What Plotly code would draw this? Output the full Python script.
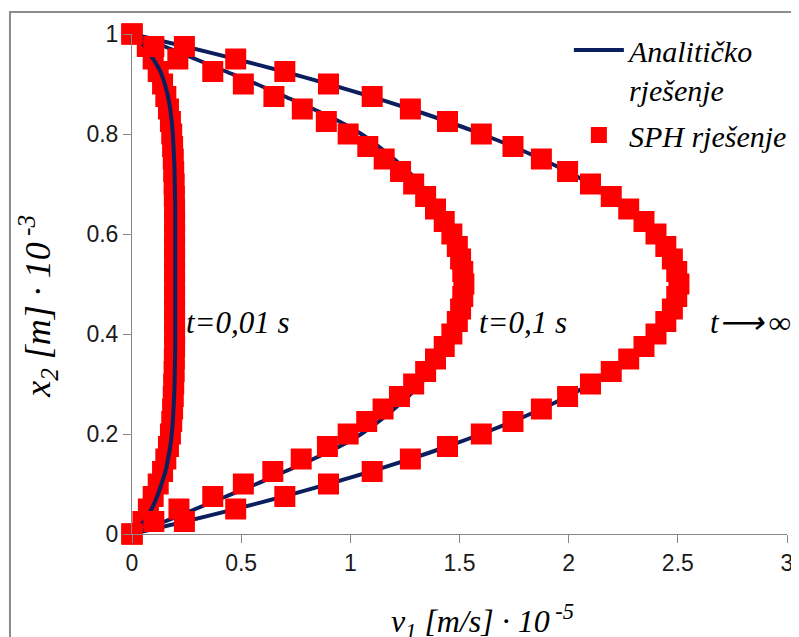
import plotly.graph_objects as go

# ---------------- data ----------------
y_pts = [0, 0.025, 0.05, 0.075, 0.1, 0.125, 0.15, 0.175, 0.2, 0.225, 0.25,
         0.275, 0.3, 0.325, 0.35, 0.375, 0.4, 0.425, 0.45, 0.475, 0.5,
         0.525, 0.55, 0.575, 0.6, 0.625, 0.65, 0.675, 0.7, 0.725, 0.75,
         0.775, 0.8, 0.825, 0.85, 0.875, 0.9, 0.925, 0.95, 0.975, 1]

# analytical solution (lines)
an_t001 = [0, 0.055, 0.09, 0.115, 0.135, 0.153, 0.165, 0.175, 0.182, 0.187, 0.19,
           0.193, 0.195, 0.196, 0.197, 0.198, 0.198, 0.198, 0.198, 0.198, 0.198,
           0.198, 0.198, 0.198, 0.198, 0.198, 0.198, 0.197, 0.196, 0.195, 0.193,
           0.19, 0.187, 0.182, 0.175, 0.165, 0.15, 0.13, 0.097, 0.06, 0]
an_t01 = [0, 0.15, 0.29, 0.43, 0.57, 0.70, 0.83, 0.95, 1.05, 1.13, 1.20,
          1.265, 1.32, 1.37, 1.41, 1.445, 1.475, 1.50, 1.515, 1.525, 1.53,
          1.525, 1.515, 1.50, 1.475, 1.445, 1.41, 1.37, 1.32, 1.265, 1.20,
          1.13, 1.05, 0.95, 0.83, 0.70, 0.57, 0.43, 0.29, 0.15, 0]
an_tinf = [0, 0.244, 0.475, 0.694, 0.90, 1.094, 1.275, 1.444, 1.60, 1.744, 1.875,
           1.994, 2.10, 2.194, 2.275, 2.344, 2.40, 2.444, 2.475, 2.494, 2.50,
           2.494, 2.475, 2.444, 2.40, 2.344, 2.275, 2.194, 2.10, 1.994, 1.875,
           1.744, 1.60, 1.444, 1.275, 1.094, 0.90, 0.694, 0.475, 0.244, 0]

# SPH solution (markers)
sph_t001 = [0, 0.05, 0.075, 0.097, 0.12, 0.14, 0.155, 0.167, 0.176, 0.182, 0.186,
            0.189, 0.191, 0.193, 0.194, 0.195, 0.195, 0.195, 0.195, 0.195, 0.195,
            0.195, 0.195, 0.195, 0.195, 0.195, 0.195, 0.194, 0.193, 0.191, 0.189,
            0.186, 0.182, 0.176, 0.167, 0.155, 0.14, 0.12, 0.097, 0.07, 0]
sph_t01 = [0, 0.10, 0.215, 0.37, 0.51, 0.645, 0.775, 0.895, 0.99, 1.075, 1.15,
           1.225, 1.29, 1.345, 1.39, 1.43, 1.465, 1.49, 1.505, 1.515, 1.52,
           1.515, 1.505, 1.49, 1.465, 1.43, 1.39, 1.345, 1.29, 1.23, 1.155,
           1.08, 0.99, 0.89, 0.78, 0.65, 0.51, 0.37, 0.21, 0.10, 0]
sph_tinf = [0, 0.24, 0.475, 0.70, 0.90, 1.10, 1.275, 1.445, 1.60, 1.745, 1.875,
            1.995, 2.10, 2.195, 2.275, 2.345, 2.40, 2.445, 2.475, 2.495, 2.505,
            2.495, 2.475, 2.445, 2.40, 2.345, 2.275, 2.195, 2.10, 1.995, 1.875,
            1.745, 1.60, 1.445, 1.275, 1.10, 0.90, 0.70, 0.475, 0.24, 0]

x_ticks = [0, 0.5, 1, 1.5, 2, 2.5, 3]
y_ticks = [0, 0.2, 0.4, 0.6, 0.8, 1]

curve_labels = ["t=0,01 s", "t=0,1 s", "t⟶\u2009∞"]
label_x = [0.24, 1.58, 2.64]
label_y = [0.424, 0.424, 0.424]

LINE_C = "#0B1F5E"
MARK_C = "#FF0000"
SERIF = "Liberation Serif"

fig = go.Figure()

def sph(xv, show):
    fig.add_trace(go.Scatter(
        x=xv, y=y_pts, mode="markers", name="SPH rješenje",
        legendgroup="sph", showlegend=show, legendrank=2, cliponaxis=False,
        marker=dict(symbol="square", size=21, color=MARK_C, line=dict(width=0))))

def ana(xv, show):
    fig.add_trace(go.Scatter(
        x=xv, y=y_pts, mode="lines", name="Analitičko<br>rješenje",
        legendgroup="an", showlegend=show, legendrank=1, cliponaxis=False,
        line=dict(color=LINE_C, width=4, shape="spline", smoothing=0.8)))

sph(sph_t001, False)
ana(an_t001, True)
ana(an_t01, False)
ana(an_tinf, False)
sph(sph_t01, True)
sph(sph_tinf, False)

for txt, xx, yy in zip(curve_labels, label_x, label_y):
    fig.add_annotation(x=xx, y=yy, text=txt, showarrow=False, xanchor="left",
                       yanchor="middle",
                       font=dict(family=SERIF, size=31, style="italic", color="#000"))

# axis titles
fig.add_annotation(xref="paper", yref="paper", x=0.535, y=-0.126,
                   text="v<sub>1</sub> [m/s] · 10<sup> -5</sup>", showarrow=False,
                   xanchor="center", yanchor="top",
                   font=dict(family=SERIF, size=32, style="italic", color="#000"))
fig.add_annotation(xref="paper", yref="paper", x=-0.143, y=0.455,
                   text="x<sub>2</sub> [m] · 10<sup> -3</sup>", showarrow=False,
                   xanchor="center", yanchor="middle", textangle=-90,
                   font=dict(family=SERIF, size=36, style="italic", color="#000"))

# outer chart border
fig.add_shape(type="rect", xref="paper", yref="paper",
              x0=-0.1863, x1=1.06, y0=-0.25, y1=1.044,
              line=dict(color="#8C8C8C", width=2), layer="below")

axis_common = dict(showgrid=False, zeroline=False, showline=True,
                   linecolor="#878787", linewidth=1, ticks="outside",
                   tickcolor="#878787", tickwidth=1, ticklen=8,
                   tickfont=dict(family="Liberation Sans", size=23, color="#1a1a1a"),
                   fixedrange=True)

# the page body has an 8 px margin; size and margins compensate for it
fig.update_layout(
    width=791, height=629,
    margin=dict(l=124, r=12, t=26, b=103, autoexpand=False),
    paper_bgcolor="white", plot_bgcolor="white",
    xaxis=dict(range=[0, 3], tickvals=x_ticks, ticktext=[str(v) for v in x_ticks],
               automargin=False, **axis_common),
    yaxis=dict(range=[0, 1], tickvals=y_ticks, ticktext=[str(v) for v in y_ticks],
               automargin=False, **axis_common),
    legend=dict(x=0.667, y=1.02, xanchor="left", yanchor="top",
                bgcolor="rgba(0,0,0,0)", itemwidth=50, valign="top",
                tracegroupgap=4,
                font=dict(family=SERIF, size=30, style="italic", color="#000")),
    showlegend=True,
)

fig.write_html("out.html")
